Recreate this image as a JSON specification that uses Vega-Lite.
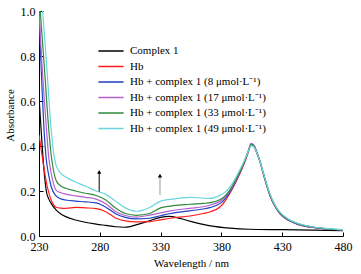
{
"$schema":"https://vega.github.io/schema/vega-lite/v6.json",
"width":304,"height":225,
"autosize":{"type":"none"},
"padding":{"left":39,"top":11,"right":18,"bottom":38},
"config":{"font":"Liberation Serif","view":{"stroke":null},
 "axis":{"grid":false,"domainColor":"#000","tickColor":"#000","labelColor":"#000","titleColor":"#000","labelFontSize":12,"titleFontSize":11,"titleFontWeight":"normal","domainWidth":1,"tickWidth":1}},
"datasets":{
"spec":[
{"s":"C","x":230,"y":0.62},{"s":"C","x":232,"y":0.45},{"s":"C","x":234,"y":0.3},{"s":"C","x":236,"y":0.2},{"s":"C","x":238,"y":0.165},{"s":"C","x":240,"y":0.145},{"s":"C","x":244,"y":0.116},{"s":"C","x":248,"y":0.098},{"s":"C","x":252,"y":0.086},{"s":"C","x":260,"y":0.071},{"s":"C","x":268,"y":0.061},{"s":"C","x":277,"y":0.053},{"s":"C","x":285,"y":0.047},{"s":"C","x":293,"y":0.041},{"s":"C","x":300,"y":0.039},{"s":"C","x":305,"y":0.042},{"s":"C","x":312,"y":0.053},{"s":"C","x":321,"y":0.068},{"s":"C","x":330,"y":0.083},{"s":"C","x":337,"y":0.087},{"s":"C","x":346,"y":0.078},{"s":"C","x":354,"y":0.066},{"s":"C","x":362,"y":0.055},{"s":"C","x":371,"y":0.045},{"s":"C","x":387,"y":0.035},{"s":"C","x":403,"y":0.03},{"s":"C","x":430,"y":0.028},{"s":"C","x":455,"y":0.026},{"s":"C","x":480,"y":0.024},
{"s":"H","x":230,"y":0.45},{"s":"H","x":233,"y":0.34},{"s":"H","x":236,"y":0.24},{"s":"H","x":240,"y":0.16},{"s":"H","x":244,"y":0.128},{"s":"H","x":248,"y":0.124},{"s":"H","x":252,"y":0.123},{"s":"H","x":260,"y":0.127},{"s":"H","x":268,"y":0.125},{"s":"H","x":277,"y":0.122},{"s":"H","x":285,"y":0.108},{"s":"H","x":293,"y":0.08},{"s":"H","x":301,"y":0.067},{"s":"H","x":310,"y":0.063},{"s":"H","x":321,"y":0.064},{"s":"H","x":330,"y":0.072},{"s":"H","x":338,"y":0.079},{"s":"H","x":354,"y":0.089},{"s":"H","x":365,"y":0.1},{"s":"H","x":371,"y":0.108},{"s":"H","x":379,"y":0.13},{"s":"H","x":383,"y":0.155},{"s":"H","x":387,"y":0.19},{"s":"H","x":391,"y":0.23},{"s":"H","x":395,"y":0.275},{"s":"H","x":399,"y":0.325},{"s":"H","x":402,"y":0.37},{"s":"H","x":404.5,"y":0.405},{"s":"H","x":407,"y":0.395},{"s":"H","x":409,"y":0.37},{"s":"H","x":412,"y":0.325},{"s":"H","x":414,"y":0.285},{"s":"H","x":417,"y":0.228},{"s":"H","x":420,"y":0.178},{"s":"H","x":424,"y":0.132},{"s":"H","x":428,"y":0.1},{"s":"H","x":435,"y":0.07},{"s":"H","x":442,"y":0.053},{"s":"H","x":455,"y":0.038},{"s":"H","x":468,"y":0.031},{"s":"H","x":480,"y":0.027},
{"s":"8","x":230,"y":1.0},{"s":"8","x":232,"y":0.72},{"s":"8","x":234.4,"y":0.45},{"s":"8","x":236,"y":0.34},{"s":"8","x":238,"y":0.27},{"s":"8","x":240,"y":0.22},{"s":"8","x":244,"y":0.178},{"s":"8","x":248,"y":0.165},{"s":"8","x":252,"y":0.16},{"s":"8","x":260,"y":0.155},{"s":"8","x":268,"y":0.152},{"s":"8","x":277,"y":0.147},{"s":"8","x":285,"y":0.128},{"s":"8","x":293,"y":0.099},{"s":"8","x":301,"y":0.083},{"s":"8","x":310,"y":0.076},{"s":"8","x":321,"y":0.079},{"s":"8","x":330,"y":0.09},{"s":"8","x":338,"y":0.1},{"s":"8","x":354,"y":0.112},{"s":"8","x":365,"y":0.12},{"s":"8","x":371,"y":0.127},{"s":"8","x":379,"y":0.145},{"s":"8","x":383,"y":0.165},{"s":"8","x":387,"y":0.195},{"s":"8","x":391,"y":0.235},{"s":"8","x":395,"y":0.28},{"s":"8","x":399,"y":0.33},{"s":"8","x":402,"y":0.375},{"s":"8","x":404.5,"y":0.41},{"s":"8","x":407,"y":0.4},{"s":"8","x":409,"y":0.373},{"s":"8","x":412,"y":0.327},{"s":"8","x":414,"y":0.287},{"s":"8","x":417,"y":0.23},{"s":"8","x":420,"y":0.18},{"s":"8","x":424,"y":0.133},{"s":"8","x":428,"y":0.101},{"s":"8","x":435,"y":0.071},{"s":"8","x":442,"y":0.054},{"s":"8","x":455,"y":0.038},{"s":"8","x":468,"y":0.031},{"s":"8","x":480,"y":0.027},
{"s":"17","x":230,"y":1.0},{"s":"17","x":231.5,"y":0.85},{"s":"17","x":236.5,"y":0.45},{"s":"17","x":238,"y":0.35},{"s":"17","x":240,"y":0.28},{"s":"17","x":244,"y":0.204},{"s":"17","x":248,"y":0.192},{"s":"17","x":252,"y":0.186},{"s":"17","x":260,"y":0.178},{"s":"17","x":268,"y":0.172},{"s":"17","x":277,"y":0.164},{"s":"17","x":285,"y":0.143},{"s":"17","x":293,"y":0.109},{"s":"17","x":301,"y":0.091},{"s":"17","x":310,"y":0.084},{"s":"17","x":321,"y":0.093},{"s":"17","x":330,"y":0.103},{"s":"17","x":338,"y":0.112},{"s":"17","x":354,"y":0.123},{"s":"17","x":365,"y":0.13},{"s":"17","x":371,"y":0.138},{"s":"17","x":379,"y":0.155},{"s":"17","x":383,"y":0.172},{"s":"17","x":387,"y":0.2},{"s":"17","x":391,"y":0.238},{"s":"17","x":395,"y":0.283},{"s":"17","x":399,"y":0.333},{"s":"17","x":402,"y":0.377},{"s":"17","x":404.5,"y":0.412},{"s":"17","x":407,"y":0.402},{"s":"17","x":409,"y":0.375},{"s":"17","x":412,"y":0.328},{"s":"17","x":414,"y":0.288},{"s":"17","x":417,"y":0.231},{"s":"17","x":420,"y":0.181},{"s":"17","x":424,"y":0.134},{"s":"17","x":428,"y":0.102},{"s":"17","x":435,"y":0.072},{"s":"17","x":442,"y":0.055},{"s":"17","x":455,"y":0.039},{"s":"17","x":468,"y":0.031},{"s":"17","x":480,"y":0.027},
{"s":"33","x":231,"y":1.0},{"s":"33","x":234,"y":0.78},{"s":"33","x":238.4,"y":0.45},{"s":"33","x":240,"y":0.36},{"s":"33","x":242,"y":0.29},{"s":"33","x":244,"y":0.248},{"s":"33","x":248,"y":0.222},{"s":"33","x":252,"y":0.212},{"s":"33","x":260,"y":0.2},{"s":"33","x":268,"y":0.19},{"s":"33","x":277,"y":0.18},{"s":"33","x":285,"y":0.16},{"s":"33","x":293,"y":0.124},{"s":"33","x":301,"y":0.1},{"s":"33","x":310,"y":0.092},{"s":"33","x":321,"y":0.1},{"s":"33","x":330,"y":0.125},{"s":"33","x":338,"y":0.133},{"s":"33","x":354,"y":0.141},{"s":"33","x":365,"y":0.145},{"s":"33","x":371,"y":0.148},{"s":"33","x":379,"y":0.162},{"s":"33","x":383,"y":0.178},{"s":"33","x":387,"y":0.205},{"s":"33","x":391,"y":0.242},{"s":"33","x":395,"y":0.285},{"s":"33","x":399,"y":0.333},{"s":"33","x":402,"y":0.375},{"s":"33","x":404.5,"y":0.407},{"s":"33","x":407,"y":0.398},{"s":"33","x":409,"y":0.373},{"s":"33","x":412,"y":0.328},{"s":"33","x":414,"y":0.289},{"s":"33","x":417,"y":0.233},{"s":"33","x":420,"y":0.183},{"s":"33","x":424,"y":0.136},{"s":"33","x":428,"y":0.104},{"s":"33","x":435,"y":0.073},{"s":"33","x":442,"y":0.056},{"s":"33","x":455,"y":0.04},{"s":"33","x":468,"y":0.032},{"s":"33","x":480,"y":0.027},
{"s":"49","x":233,"y":1.0},{"s":"49","x":236,"y":0.78},{"s":"49","x":240.4,"y":0.45},{"s":"49","x":242,"y":0.37},{"s":"49","x":244,"y":0.315},{"s":"49","x":248,"y":0.278},{"s":"49","x":252,"y":0.262},{"s":"49","x":260,"y":0.24},{"s":"49","x":268,"y":0.222},{"s":"49","x":277,"y":0.2},{"s":"49","x":285,"y":0.185},{"s":"49","x":293,"y":0.155},{"s":"49","x":301,"y":0.125},{"s":"49","x":310,"y":0.11},{"s":"49","x":321,"y":0.127},{"s":"49","x":330,"y":0.155},{"s":"49","x":338,"y":0.163},{"s":"49","x":354,"y":0.172},{"s":"49","x":365,"y":0.168},{"s":"49","x":371,"y":0.167},{"s":"49","x":379,"y":0.182},{"s":"49","x":383,"y":0.195},{"s":"49","x":387,"y":0.218},{"s":"49","x":391,"y":0.252},{"s":"49","x":395,"y":0.292},{"s":"49","x":399,"y":0.337},{"s":"49","x":402,"y":0.375},{"s":"49","x":404.5,"y":0.402},{"s":"49","x":407,"y":0.395},{"s":"49","x":409,"y":0.371},{"s":"49","x":412,"y":0.328},{"s":"49","x":414,"y":0.29},{"s":"49","x":417,"y":0.235},{"s":"49","x":420,"y":0.186},{"s":"49","x":424,"y":0.139},{"s":"49","x":428,"y":0.107},{"s":"49","x":435,"y":0.076},{"s":"49","x":442,"y":0.058},{"s":"49","x":455,"y":0.041},{"s":"49","x":468,"y":0.033},{"s":"49","x":480,"y":0.028}
],
"arrows":[{"a":"1","x":279.5,"y":0.197,"tip":0.285},{"a":"2","x":329.5,"y":0.182,"tip":0.268}]
},
"layer":[
{"data":{"name":"spec"},"mark":{"type":"line","interpolate":"monotone","strokeWidth":1.2,"clip":true},
 "encoding":{
  "x":{"field":"x","type":"quantitative","scale":{"domain":[230,480],"nice":false,"zero":false},
   "axis":{"title":"Wavelength / nm","values":[230,255,280,305,330,355,380,405,430,455,480],"labelExpr":"datum.value % 50 == 30 ? datum.label : ''","tickSize":-4,"labelPadding":9,"titlePadding":5,"labelFlush":false}},
  "y":{"field":"y","type":"quantitative","scale":{"domain":[0,1],"nice":false},
   "axis":{"title":"Absorbance","values":[0,0.1,0.2,0.3,0.4,0.5,0.6,0.7,0.8,0.9,1.0],"format":".1f","labelExpr":"round(datum.value*10) % 2 == 0 ? datum.label : ''","tickSize":-4,"labelPadding":8,"titleX":-24,"titleY":104,"labelFlush":false}},
  "color":{"field":"s","type":"nominal","scale":{"domain":["C","H","8","17","33","49"],"range":["#000000","#ff1a1a","#1f3fc4","#b55fcf","#2f8a3c","#68d6dc"]},
   "legend":{"title":null,"orient":"none","legendX":65,"legendY":33,"symbolType":"M-2.1,0H2.1","symbolSize":144,"symbolStrokeWidth":1.5,"labelFontSize":11,"labelColor":"#000","labelOffset":12,"rowPadding":3.5,"labelLimit":300,
    "labelExpr":"datum.value=='C' ? 'Complex 1' : datum.value=='H' ? 'Hb' : 'Hb + complex 1 (' + datum.value + ' μmol·L⁻¹)'"}}
 }},
{"data":{"name":"arrows"},"transform":[{"filter":"datum.a=='1'"}],"mark":{"type":"rule","color":"#000","strokeWidth":1},
 "encoding":{"x":{"field":"x","type":"quantitative"},"y":{"field":"y","type":"quantitative"},"y2":{"field":"tip"}}},
{"data":{"name":"arrows"},"transform":[{"filter":"datum.a=='1'"}],"mark":{"type":"point","shape":"triangle-up","filled":true,"color":"#000","size":18,"opacity":1},
 "encoding":{"x":{"field":"x","type":"quantitative"},"y":{"field":"tip","type":"quantitative"}}},
{"data":{"name":"arrows"},"transform":[{"filter":"datum.a=='2'"}],"mark":{"type":"rule","color":"#9a9a9a","strokeWidth":1},
 "encoding":{"x":{"field":"x","type":"quantitative"},"y":{"field":"y","type":"quantitative"},"y2":{"field":"tip"}}},
{"data":{"name":"arrows"},"transform":[{"filter":"datum.a=='2'"}],"mark":{"type":"point","shape":"triangle-up","filled":true,"color":"#000","size":18,"opacity":1},
 "encoding":{"x":{"field":"x","type":"quantitative"},"y":{"field":"tip","type":"quantitative"}}}
]
}
